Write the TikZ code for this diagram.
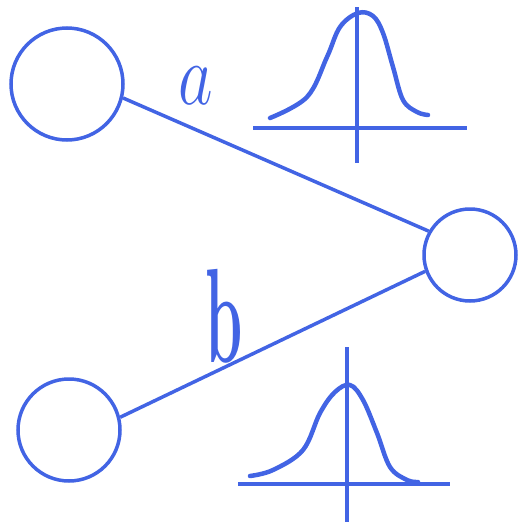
\documentclass[tikz,border=0pt]{standalone}
\usepackage{amsmath}
\definecolor{pen}{RGB}{66,100,228}

\begin{document}
\begin{tikzpicture}[x=1pt,y=-1pt]
        \tikzstyle{every node}=[font=\Huge, color=pen]
        \tikzstyle{neuron}=[draw=pen, circle, line width=3.5pt, inner sep=0pt]
        \useasboundingbox (0,0) rectangle (521,525);

        \node[neuron, minimum size=112pt] (in1) at (67,84) {};
        \node[neuron, minimum size=102pt] (in2) at (69,430) {};
        \node[neuron, minimum size=92pt] (out) at (470,255) {};

        \draw [pen, line width=3.5pt] (in1.-14) -- (out.150);
        \draw [pen, line width=3.5pt] (in2.14) -- (out.200);
            \node (la) at (196,86) {\scalebox{2.7}[3.5]{$a$}};
            \node (lb) at (224,316) {\scalebox{2.4}[5.4]{\textbf{b}}};

        % weight distributions
        \draw [pen, line width=3.5pt] (253,128) -- (467,128);
        \draw [pen, line width=3.5pt] (357,7) -- (357,163);
        \draw [pen, line width=4.5pt, line cap=round] plot [smooth, tension=0.6] coordinates
            {(270,118) (307,97) (327,57) (340,27) (358,13) (373,16) (383,33) (393,67) (403,100) (417,112) (428,115)};

        \draw [pen, line width=3.5pt] (238,484) -- (450,484);
        \draw [pen, line width=3.5pt] (347,347) -- (347,522);
        \draw [pen, line width=4.5pt, line cap=round] plot [smooth, tension=0.6] coordinates
            {(250,476) (273,470) (303,450) (320,413) (335,392) (350,385) (363,400) (377,433) (390,467) (407,480) (418,482)};
        \end{tikzpicture}
\end{document}
